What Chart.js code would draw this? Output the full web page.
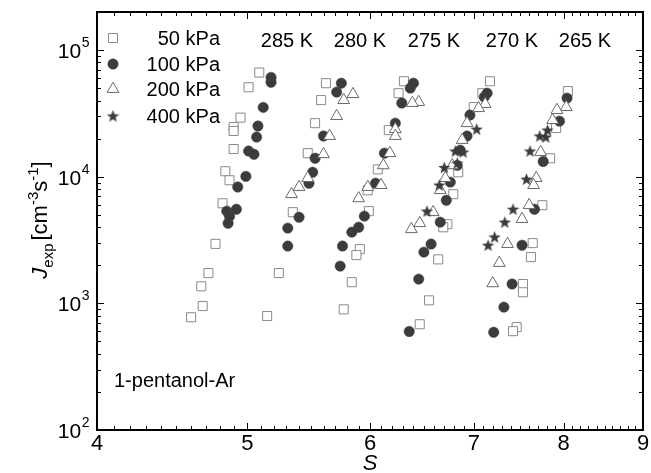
<!DOCTYPE html>
<html>
<head>
<meta charset="utf-8">
<script src="https://cdn.jsdelivr.net/npm/chart.js@4.4.1/dist/chart.umd.min.js"></script>
<style>
  html, body { margin: 0; padding: 0; background: #fff; }
  #wrap { width: 651px; height: 473px; }
</style>
</head>
<body>
<div id="wrap"><canvas id="nucleationChart" width="651" height="473"></canvas></div>
<script>
// Nucleation rate J_exp vs supersaturation S, 1-pentanol-Ar
const temperatures = ['285 K', '280 K', '275 K', '270 K', '265 K'];
const pressures = ['50 kPa', '100 kPa', '200 kPa', '400 kPa'];

// 50 kPa (open squares)
const s50 = [5.09, 5.01, 4.95, 4.90, 4.90, 4.90, 4.84, 4.87, 4.82, 4.77, 4.72, 4.67, 4.68, 4.60,
             5.62, 5.58, 5.53, 5.47, 5.35, 5.24, 5.15,
             6.31, 6.26, 6.17, 6.07, 5.98, 5.99, 5.91, 5.88, 5.84, 5.77,
             7.17, 7.09, 7.00, 6.84, 6.79, 6.73, 6.69, 6.64, 6.55, 6.46,
             8.05, 7.91, 7.84, 7.75, 7.64, 7.62, 7.53, 7.53, 7.46, 7.42];
const j50 = [66500, 50900, 29300, 24650, 23000, 16550, 11050, 9380, 6170, 2950, 1735, 1365, 953, 777,
             54800, 40300, 26500, 15350, 5250, 1735, 794,
             56800, 45700, 23350, 11430, 7820, 5350, 2680, 2405, 1470, 897,
             56800, 45700, 35500, 10850, 7280, 4220, 3990, 2225, 1057, 684,
             47450, 24250, 13990, 5960, 2990, 2320, 1422, 1224, 649, 603];

// 100 kPa (filled circles)
const s100 = [5.18, 5.18, 5.12, 5.08, 5.07, 5.01, 5.05, 4.99, 4.93, 4.92, 4.85, 4.87, 4.86,
              5.75, 5.71, 5.60, 5.53, 5.51, 5.48, 5.40, 5.31, 5.31,
              6.40, 6.37, 6.29, 6.23, 6.13, 6.05, 5.95, 5.90, 5.84, 5.76, 5.74,
              7.14, 7.11, 6.96, 6.93, 6.86, 6.83, 6.76, 6.72, 6.66, 6.57, 6.50, 6.45, 6.36,
              8.04, 7.95, 7.76, 7.66, 7.52, 7.41, 7.32, 7.21];
const j100 = [60900, 55800, 35300, 25150, 20580, 15950, 15060, 10060, 8300, 5540, 5350, 4870, 4290,
              54800, 46600, 20970, 13990, 10850, 8890, 4790, 3930, 2835,
              54800, 50100, 38200, 26500, 15350, 8890, 4885, 3990, 3650, 2835, 1970,
              45700, 42600, 30700, 20970, 16230, 12300, 9070, 6520, 4380, 2940, 2540, 1555, 600,
              41800, 27500, 13200, 5540, 2880, 1422, 934, 591];

// 200 kPa (open triangles)
const s200 = [5.85, 5.77, 5.71, 5.65, 5.60, 5.47, 5.40, 5.34,
              6.45, 6.39, 6.23, 6.23, 6.18, 6.12, 6.10, 5.98, 5.90,
              7.12, 7.05, 6.93, 6.88, 6.78, 6.71, 6.66, 6.59, 6.46, 6.38,
              8.03, 7.92, 7.87, 7.73, 7.68, 7.65, 7.60, 7.52, 7.36, 7.27, 7.20];
const j200 = [44900, 40300, 30100, 20970, 15060, 9760, 8300, 7280,
              38900, 38200, 23750, 20970, 15350, 12300, 8590, 8300, 6750,
              37500, 34800, 26500, 19500, 12300, 9760, 7840, 5250, 4300, 3850,
              35500, 33600, 28000, 15650, 9760, 8590, 5960, 4630, 2940, 2085, 1440];

// 400 kPa (filled stars)
const s400 = [7.03, 6.89, 6.81, 6.83, 6.70, 6.65, 6.53,
              7.81, 7.72, 7.79, 7.61, 7.57, 7.42, 7.33, 7.22, 7.15];
const j400 = [23750, 15650, 15950, 12800, 11820, 8590, 5350,
              23350, 20970, 20580, 15950, 9570, 5540, 4380, 3340, 2880];

// axis ticks
const xTicks = [4, 5, 6, 7, 8, 9];
const yExponents = [2, 3, 4, 5];

const FONT = '"Liberation Sans", Arial, Helvetica, sans-serif';
const DARK = '#3c3c3c';

function toPoints(xs, ys) {
    return xs.map((x, i) => ({ x: x, y: ys[i] }));
}

// filled five-point star used as point style
function makeStar(size, color) {
    const c = document.createElement('canvas');
    c.width = size;
    c.height = size;
    const g = c.getContext('2d');
    const cx = size / 2, cy = size / 2 + 0.5;
    const ro = size / 2, ri = ro * 0.42;
    g.beginPath();
    for (let i = 0; i < 10; i++) {
        const r = i % 2 === 0 ? ro : ri;
        const a = -Math.PI / 2 + i * Math.PI / 5;
        const px = cx + r * Math.cos(a), py = cy + r * Math.sin(a);
        if (i === 0) g.moveTo(px, py); else g.lineTo(px, py);
    }
    g.closePath();
    g.fillStyle = color;
    g.fill();
    return c;
}
const starImg = makeStar(13, DARK);

const seriesStyles = [
    { pointStyle: 'rect', pointRadius: 6.4, backgroundColor: '#ffffff', borderColor: '#8a8a8a', borderWidth: 1 },
    { pointStyle: 'circle', pointRadius: 5.2, backgroundColor: DARK, borderColor: DARK, borderWidth: 0.5 },
    { pointStyle: 'triangle', pointRadius: 6.8, backgroundColor: '#ffffff', borderColor: '#6a6a6a', borderWidth: 1 },
    { pointStyle: starImg, pointRadius: 6, backgroundColor: DARK, borderColor: DARK, borderWidth: 0 }
];

// draws "10" with a raised exponent, right edge at xr
function drawPow(ctx, exp, xr, ym) {
    ctx.textBaseline = 'middle';
    ctx.textAlign = 'left';
    ctx.font = '14px ' + FONT;
    const ew = ctx.measureText(String(exp)).width;
    ctx.font = '21px ' + FONT;
    const bw = ctx.measureText('10').width;
    const x0 = xr - ew - bw;
    ctx.fillText('10', x0, ym + 2);
    ctx.font = '14px ' + FONT;
    ctx.fillText(String(exp), x0 + bw + 0.5, ym - 7);
}

// draws a run of text pieces with font / baseline shifts, centered at 0
function drawRuns(ctx, runs) {
    let total = 0;
    runs.forEach(r => {
        ctx.font = r.font;
        r.w = ctx.measureText(r.text).width;
        total += r.w + (r.gap || 0);
    });
    let x = -total / 2;
    ctx.textAlign = 'left';
    ctx.textBaseline = 'alphabetic';
    runs.forEach(r => {
        x += r.gap || 0;
        ctx.font = r.font;
        ctx.fillText(r.text, x, r.dy || 0);
        x += r.w;
    });
}

function drawMarker(ctx, st, x, y) {
    if (st.pointStyle === starImg) {
        ctx.drawImage(starImg, x - starImg.width / 2, y - starImg.height / 2);
        return;
    }
    ctx.fillStyle = st.backgroundColor;
    ctx.strokeStyle = st.borderColor;
    ctx.lineWidth = st.borderWidth;
    ctx.beginPath();
    if (st.pointStyle === 'rect') {
        const h = st.pointRadius * Math.SQRT1_2;
        ctx.rect(x - h, y - h, 2 * h, 2 * h);
    } else if (st.pointStyle === 'circle') {
        ctx.arc(x, y, st.pointRadius, 0, Math.PI * 2);
    } else {
        const r = st.pointRadius;
        ctx.moveTo(x, y - r);
        ctx.lineTo(x + r * 0.866, y + r / 2);
        ctx.lineTo(x - r * 0.866, y + r / 2);
        ctx.closePath();
    }
    ctx.fill();
    if (st.borderWidth) ctx.stroke();
}

const framePlugin = {
    id: 'frame',
    afterDatasetsDraw(chart) {
        const ctx = chart.ctx;
        const area = chart.chartArea;
        const xs = chart.scales.x, ys = chart.scales.y;
        ctx.save();
        ctx.fillStyle = '#000';
        ctx.strokeStyle = '#000';

        // tick marks pointing inwards on all four sides
        ctx.lineWidth = 1;
        ctx.beginPath();
        for (let i = 41; i < 90; i++) {
            const px = Math.round(xs.getPixelForValue(i / 10)) + 0.5;
            const len = (i % 10 === 0) ? 7 : 4;
            ctx.moveTo(px, area.bottom); ctx.lineTo(px, area.bottom - len);
            ctx.moveTo(px, area.top); ctx.lineTo(px, area.top + len);
        }
        for (let e = 2; e <= 5; e++) {
            for (let m = 1; m <= 9; m++) {
                const v = m * Math.pow(10, e);
                if (v > ys.max || (e === 2 && m === 1)) continue;
                const py = Math.round(ys.getPixelForValue(v)) + 0.5;
                const len = m === 1 ? 7 : 4;
                ctx.moveTo(area.left, py); ctx.lineTo(area.left + len, py);
                ctx.moveTo(area.right, py); ctx.lineTo(area.right - len, py);
            }
        }
        ctx.stroke();

        // frame
        ctx.lineWidth = 2;
        ctx.strokeRect(area.left, area.top, area.right - area.left, area.bottom - area.top);

        // x tick labels
        ctx.fillStyle = '#000';
        ctx.font = '22px ' + FONT;
        ctx.textAlign = 'center';
        ctx.textBaseline = 'top';
        xTicks.forEach(v => {
            ctx.fillText(String(v), xs.getPixelForValue(v), area.bottom + 3);
        });

        // y tick labels
        yExponents.forEach(e => {
            drawPow(ctx, e, area.left - 8, ys.getPixelForValue(Math.pow(10, e)));
        });

        // axis titles
        ctx.font = 'italic 22px ' + FONT;
        ctx.textAlign = 'center';
        ctx.textBaseline = 'alphabetic';
        ctx.fillText('S', xs.getPixelForValue(6), 470);

        ctx.save();
        ctx.translate(47, 220);
        ctx.rotate(-Math.PI / 2);
        drawRuns(ctx, [
            { text: 'J', font: 'italic 22px ' + FONT },
            { text: 'exp', font: '15px ' + FONT, dy: 6 },
            { text: '[cm', font: '22px ' + FONT, gap: 3 },
            { text: '-3', font: '15px ' + FONT, dy: -9 },
            { text: 's', font: '22px ' + FONT },
            { text: '-1', font: '15px ' + FONT, dy: -9 },
            { text: ']', font: '22px ' + FONT }
        ]);
        ctx.restore();

        // temperature labels
        const tempX = [287, 360, 434, 512, 585];
        ctx.font = '20px ' + FONT;
        ctx.textAlign = 'center';
        ctx.textBaseline = 'middle';
        temperatures.forEach((t, i) => ctx.fillText(t, tempX[i], 41));

        // legend
        const legY = [38, 64, 89, 116];
        pressures.forEach((p, i) => {
            drawMarker(ctx, seriesStyles[i], 113, legY[i]);
            ctx.fillStyle = '#000';
            ctx.font = '20px ' + FONT;
            ctx.textAlign = 'right';
            ctx.textBaseline = 'middle';
            ctx.fillText(p, 220, legY[i] + 1);
        });

        // system label
        ctx.font = '20px ' + FONT;
        ctx.textAlign = 'left';
        ctx.textBaseline = 'middle';
        ctx.fillText('1-pentanol-Ar', 114, 381);

        ctx.restore();
    }
};

const datasets = [
    { label: pressures[0], data: toPoints(s50, j50), order: 4 },
    { label: pressures[1], data: toPoints(s100, j100), order: 3 },
    { label: pressures[2], data: toPoints(s200, j200), order: 2 },
    { label: pressures[3], data: toPoints(s400, j400), order: 1 }
].map((d, i) => Object.assign(d, seriesStyles[i], { showLine: false }));

new Chart(document.getElementById('nucleationChart'), {
    type: 'scatter',
    data: { datasets: datasets },
    options: {
        responsive: false,
        animation: false,
        devicePixelRatio: 1,
        layout: { padding: { top: 12, right: 8, left: 0, bottom: 0 } },
        plugins: {
            legend: { display: false },
            tooltip: { enabled: false }
        },
        scales: {
            x: {
                type: 'logarithmic',
                min: 4,
                max: 9,
                ticks: { display: false },
                grid: { display: false },
                border: { display: false },
                afterFit: function(scale) { scale.height = 43; }
            },
            y: {
                type: 'logarithmic',
                min: 100,
                max: 200000,
                ticks: { display: false },
                grid: { display: false },
                border: { display: false },
                afterFit: function(scale) { scale.width = 97; }
            }
        }
    },
    plugins: [framePlugin]
});
</script>
</body>
</html>
